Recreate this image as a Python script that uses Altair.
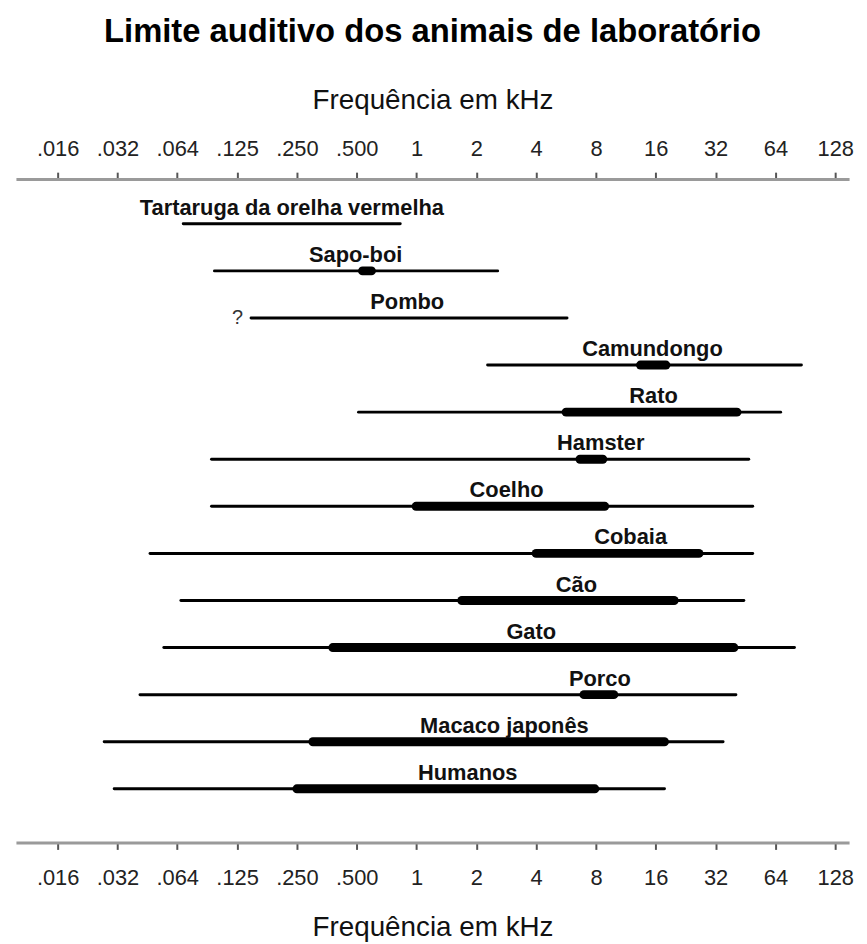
import altair as alt
import pandas as pd

# ---- data (frequencies in kHz) ----
animals = ["Tartaruga da orelha vermelha", "Sapo-boi", "Pombo", "Camundongo", "Rato",
           "Hamster", "Coelho", "Cobaia", "Cão", "Gato", "Porco", "Macaco japonês", "Humanos"]
low = [0.067, 0.0962, 0.147, 2.28, 0.511, 0.093, 0.093, 0.0456, 0.0652, 0.0535, 0.0406, 0.0268, 0.0301]
high = [0.828, 2.56, 5.72, 86.5, 68.0, 47.0, 49.2, 49.2, 44.4, 79.8, 40.5, 34.9, 17.7]
best_low = [None, 0.535, None, 13.4, 5.66, 6.65, 0.995, 4.0, 1.69, 0.379, 6.96, 0.301, 0.250]
best_high = [None, 0.593, None, 18.0, 41.0, 8.66, 8.86, 26.4, 19.8, 39.6, 9.84, 17.7, 7.90]
label_at = [0.236, 0.494, 0.898, 15.4, 15.6, 8.46, 2.84, 11.96, 6.38, 3.78, 8.37, 2.77, 1.81]
uncertain = ["", "", "?", "", "", "", "", "", "", "", "", "", ""]

tick_values = [2.0 ** k for k in range(-6, 8)]
tick_labels = [".016", ".032", ".064", ".125", ".250", ".500", "1", "2", "4", "8", "16", "32", "64", "128"]

df = pd.DataFrame({
    "animal": animals, "idx": list(range(len(animals))),
    "low": low, "high": high, "blow": best_low, "bhigh": best_high,
    "lab": label_at, "q": uncertain,
})

FONT = "Liberation Sans"
xscale = alt.Scale(type="log", base=2, domain=[2 ** -6.697, 2 ** 7.232], nice=False)
yscale = alt.Scale(domain=[-0.949, 13.139], reverse=True, nice=False, zero=False)

label_expr = "[" + ",".join("'%s'" % t for t in tick_labels) + "][round(log(datum.value)/log(2))+6]"

def make_axis(orient, label_pad, title_pad):
    return alt.Axis(
        orient=orient, values=tick_values, labelExpr=label_expr,
        title="Frequência em kHz", titleFont=FONT, titleFontSize=28,
        titleFontWeight="normal", titleColor="#111", titlePadding=title_pad,
        labelFont=FONT, labelFontSize=22, labelColor="#222", labelPadding=label_pad,
        domainColor="#9a9a9a", domainWidth=3, tickColor="#555", tickWidth=2,
        tickSize=7, grid=False, labelFlush=False, labelOverlap=False,
    )

base = alt.Chart(df)

thin = base.mark_rule(color="black", strokeWidth=3, strokeCap="round").encode(
    x=alt.X("low:Q", scale=xscale, axis=make_axis("bottom", 18, 26)),
    x2="high:Q",
    y=alt.Y("idx:Q", scale=yscale, axis=None),
)

thick = base.transform_filter("isValid(datum.blow)").mark_rule(
    color="black", strokeWidth=9, strokeCap="round"
).encode(
    x=alt.X("blow:Q", scale=xscale, axis=make_axis("top", 12, 23)),
    x2="bhigh:Q",
    y=alt.Y("idx:Q", scale=yscale, axis=None),
)

labels = base.mark_text(
    font=FONT, fontSize=22, fontWeight="bold", color="#111",
    align="center", baseline="alphabetic", dy=-9,
).encode(
    x=alt.X("lab:Q", scale=xscale, axis=None),
    y=alt.Y("idx:Q", scale=yscale, axis=None),
    text="animal:N",
)

qmark = base.transform_filter("datum.q != ''").mark_text(
    font=FONT, fontSize=20, color="#333", align="right", baseline="middle", dx=-8,
).encode(
    x=alt.X("low:Q", scale=xscale, axis=None),
    y=alt.Y("idx:Q", scale=yscale, axis=None),
    text="q:N",
)

chart = alt.layer(thin, thick, labels, qmark).resolve_axis(x="independent").properties(
    width=839, height=668,
    padding={"left": 8, "top": 5, "right": 5, "bottom": 5},
    title=alt.TitleParams(
        text="Limite auditivo dos animais de laboratório", font=FONT, fontSize=33,
        fontWeight="bold", color="black", anchor="middle", offset=38,
    ),
).configure_view(stroke=None)

chart.save("out.html", embed_options={"renderer": "svg", "actions": False})
